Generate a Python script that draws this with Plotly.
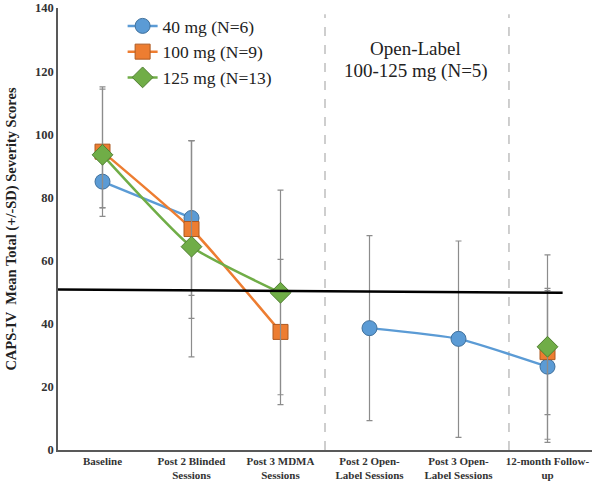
import plotly.graph_objects as go

categories = ["Baseline", "Post 2 Blinded<br>Sessions", "Post 3 MDMA<br>Sessions",
              "Post 2 Open-<br>Label Sessions", "Post 3 Open-<br>Label Sessions",
              "12-month Follow-<br>up"]

mg40 = [85.0, 73.5, None, 38.6, 35.2, 26.4]
mg40_plus = [8.0, 24.5, 0, 29.3, 31.0, 24.1]
mg40_minus = [8.2, 24.5, 0, 29.3, 31.2, 24.0]

mg100 = [94.5, 70.0, 37.4, None, None, 31.0]
mg100_plus = [20.5, 28.0, 23.0, 0, 0, 20.2]
mg100_minus = [20.5, 40.5, 23.0, 0, 0, 19.8]

mg125 = [93.5, 64.4, 49.8, None, None, 32.7]
mg125_plus = [20.8, 33.6, 32.5, 0, 0, 29.1]
mg125_minus = [16.8, 22.7, 32.3, 0, 0, 29.3]

names = ["40 mg (N=6)", "100 mg (N=9)", "125 mg (N=13)"]
threshold = [50.8, 49.8]
annotation_lines = ["Open-Label", "100-125 mg (N=5)"]
y_title = "CAPS-IV  Mean Total (+/-SD) Severity Scores"

serif = "Liberation Serif, Tinos, Times New Roman, DejaVu Serif, serif"
fig = go.Figure()

series = [
    (mg40, mg40_plus, mg40_minus, names[0], "circle", "#5B9BD5", "#41719C"),
    (mg100, mg100_plus, mg100_minus, names[1], "square", "#ED7D31", "#AE5A21"),
    (mg125, mg125_plus, mg125_minus, names[2], "diamond", "#70AD47", "#507E32"),
]

for ys, ep, em, name, sym, col, edge in series:
    fig.add_trace(go.Scatter(
        x=categories, y=ys, name=name, mode="lines+markers",
        connectgaps=False,
        line=dict(color=col, width=2.5, shape="spline", smoothing=0.5),
        marker=dict(symbol=sym, size=15 if sym != "diamond" else 16, color=col,
                    line=dict(color=edge, width=1)),
        error_y=dict(type="data", symmetric=False, array=ep, arrayminus=em,
                     color="#8c8c8c", thickness=1.2, width=3),
    ))

# dashed separators
for xv in [2.5, 4.567]:
    fig.add_shape(type="line", x0=xv, x1=xv, y0=0, y1=138, xref="x", yref="y",
                  line=dict(color="#BFBFBF", width=1.5, dash="dash"), layer="below")

# threshold line
fig.add_shape(type="line", x0=-0.5, x1=5.17, y0=threshold[0], y1=threshold[1],
              xref="x", yref="y", line=dict(color="black", width=2.5))

for txt, yv in zip(annotation_lines, [127.3, 120.0]):
    fig.add_annotation(x=3.52, y=yv, xref="x", yref="y", text=txt,
                       showarrow=False, font=dict(family=serif, size=19, color="#222222"),
                       align="center")

fig.update_layout(
    width=599, height=488,
    margin=dict(l=58, r=7, t=8, b=38),
    paper_bgcolor="white", plot_bgcolor="white",
    showlegend=True,
    legend=dict(x=0.121, y=1.0, xanchor="left", yanchor="top",
                bgcolor="rgba(0,0,0,0)", font=dict(family=serif, size=17.5, color="#222222"),
                tracegroupgap=0, itemwidth=30),
    xaxis=dict(type="category", categoryorder="array", categoryarray=categories,
               range=[-0.5, 5.5], showline=True, linecolor="#595959", linewidth=1.5,
               showgrid=False, ticks="", zeroline=False, automargin=False,
               tickfont=dict(family=serif, size=11, color="#333333", weight="bold")),
    yaxis=dict(range=[0, 140], dtick=20, showline=True, linecolor="#595959", linewidth=1.5,
               showgrid=False, ticks="", zeroline=False, automargin=False,
               tickfont=dict(family=serif, size=12.5, color="#333333", weight="bold"),
               title=dict(text=y_title, standoff=15,
                          font=dict(family=serif, size=14.5, color="#222222", weight="bold"))),
)

fig.write_html("out.html", config={"displayModeBar": False},
               post_script="document.body.style.margin='0';")
